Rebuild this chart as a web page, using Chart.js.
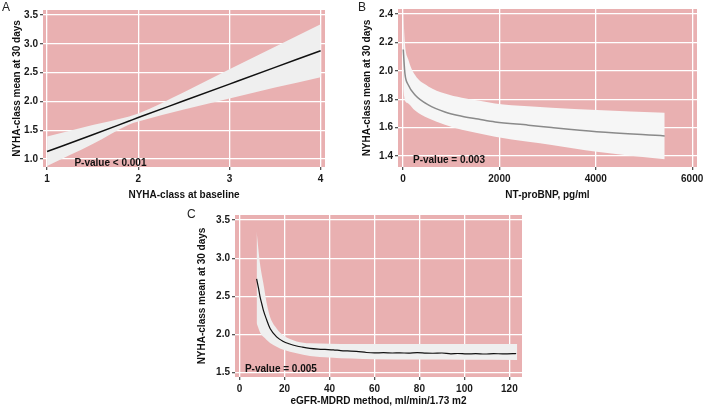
<!DOCTYPE html>
<html>
<head>
<meta charset="utf-8">
<script src="https://cdn.jsdelivr.net/npm/chart.js@4/dist/chart.umd.min.js"></script>
<style>
  body { margin: 0; background: #fff; }
  #wrap { position: relative; width: 709px; height: 406px; font-family: "Liberation Sans", Arial, sans-serif; }
  canvas { position: absolute; }
  .tag { position: absolute; font-size: 12px; color: #222; }
</style>
</head>
<body>
<div id="wrap">
  <canvas id="chartA" width="350" height="202" style="left:0;top:0"></canvas>
  <canvas id="chartB" width="359" height="202" style="left:350px;top:0"></canvas>
  <canvas id="chartC" width="350" height="202" style="left:185px;top:206px"></canvas>
  <div class="tag" style="left:2px;top:0px">A</div>
  <div class="tag" style="left:358px;top:0px">B</div>
  <div class="tag" style="left:187px;top:207px">C</div>
</div>
<script>
// panel A - NYHA-class at baseline
const xA     = [1, 1.5, 1.9, 2, 2.5, 3, 3.5, 4];
const meanA  = [1.13, 1.42, 1.66, 1.72, 2.01, 2.30, 2.59, 2.88];
const upperA = [1.39, 1.59, 1.74, 1.79, 2.16, 2.56, 2.95, 3.34];
const lowerA = [0.88, 1.26, 1.60, 1.65, 1.86, 2.05, 2.24, 2.42];
const xTicksA = [1, 2, 3, 4];
const yTicksA = [1.0, 1.5, 2.0, 2.5, 3.0, 3.5];

// panel B - NT-proBNP
const xB     = [5, 40, 110, 250, 525, 870, 1220, 1560, 1910, 2600, 3085, 4020, 5430];
const meanB  = [2.15, 1.98, 1.90, 1.83, 1.76, 1.71, 1.68, 1.66, 1.64, 1.617, 1.60, 1.571, 1.541];
const upperB = [2.42, 2.19, 2.08, 1.97, 1.89, 1.84, 1.81, 1.79, 1.77, 1.75, 1.74, 1.724, 1.705];
const lowerB = [1.87, 1.79, 1.77, 1.72, 1.665, 1.62, 1.585, 1.56, 1.536, 1.50, 1.478, 1.43, 1.377];
const xTicksB = [0, 2000, 4000, 6000];
const yTicksB = [1.4, 1.6, 1.8, 2.0, 2.2, 2.4];

// panel C - eGFR-MDRD
const xC    = [7.6, 8.5, 9.1, 10, 10.6, 12.1, 13.6, 16.5, 19.5, 22, 25.4, 28, 31.3, 35, 38, 41.7, 45, 48, 52, 56.5,
               60, 64, 68, 71.3, 75, 79, 83, 86, 90, 94, 97, 101, 105, 109, 113, 117, 121.6, 123];
const meanC = [2.73, 2.60, 2.50, 2.39, 2.32, 2.19, 2.08, 1.97, 1.91, 1.88, 1.85, 1.835, 1.82, 1.81, 1.805, 1.80, 1.79, 1.785, 1.78, 1.765,
               1.76, 1.762, 1.758, 1.76, 1.757, 1.762, 1.756, 1.755, 1.758, 1.748, 1.752, 1.746, 1.75, 1.745, 1.75, 1.747, 1.75, 1.752];
const xCband = [7.6, 9.1, 10.6, 12.1, 13.6, 16.5, 19.5, 25.4, 31.3, 40, 50, 60, 80, 100, 123.5];
const upperC = [3.35, 2.93, 2.67, 2.41, 2.23, 2.08, 1.99, 1.91, 1.885, 1.88, 1.876, 1.875, 1.875, 1.875, 1.875];
const lowerC = [2.15, 2.03, 1.97, 1.93, 1.89, 1.84, 1.80, 1.755, 1.72, 1.70, 1.685, 1.676, 1.672, 1.67, 1.668];
const xTicksC = [0, 20, 40, 60, 80, 100, 120];
const yTicksC = [1.5, 2.0, 2.5, 3.0, 3.5];

const pink = '#e9b0b1';
const fontBold = { family: '"Liberation Sans", Arial, sans-serif', size: 10, weight: 'bold' };

const pts = (xs, ys) => xs.map((x, i) => ({ x: x, y: ys[i] }));

// pink panel + p-value text
const panelPlugin = {
  id: 'panel',
  beforeDraw(chart) {
    const a = chart.chartArea, ctx = chart.ctx;
    ctx.save();
    ctx.fillStyle = pink;
    ctx.fillRect(a.left, a.top, a.right - a.left, a.bottom - a.top);
    ctx.restore();
  },
  afterDatasetsDraw(chart, args, opts) {
    const ctx = chart.ctx;
    ctx.save();
    ctx.font = 'bold 10px "Liberation Sans", Arial, sans-serif';
    ctx.fillStyle = '#111';
    ctx.textAlign = 'left';
    ctx.textBaseline = 'middle';
    ctx.fillText(opts.text, chart.scales.x.getPixelForValue(opts.x), chart.scales.y.getPixelForValue(opts.y));
    ctx.restore();
  }
};

function makeChart(id, p) {
  return new Chart(document.getElementById(id), {
    type: 'line',
    data: {
      datasets: [
        { data: pts(p.x, p.mean), borderColor: p.lineColor, borderWidth: p.lineWidth, pointRadius: 0,
          cubicInterpolationMode: 'monotone', order: 0 },
        { data: pts(p.bx, p.upper), borderWidth: 0, pointRadius: 0, fill: '+1',
          backgroundColor: p.bandColor, cubicInterpolationMode: 'monotone', order: 1 },
        { data: pts(p.bx, p.lower), borderWidth: 0, pointRadius: 0, fill: false,
          cubicInterpolationMode: 'monotone', order: 2 }
      ]
    },
    options: {
      responsive: false,
      animation: false,
      devicePixelRatio: 1,
      layout: { padding: p.pad },
      plugins: { legend: { display: false }, tooltip: { enabled: false }, panel: p.pval },
      scales: {
        x: {
          type: 'linear', min: p.xmin, max: p.xmax,
          afterBuildTicks: s => { s.ticks = p.xticks.map(v => ({ value: v })); },
          afterFit: s => { s.height = p.xh; },
          grid: { color: '#fff', lineWidth: 1.3, tickColor: '#555', tickLength: 3 },
          border: { display: false },
          ticks: { font: fontBold, color: '#1a1a1a', padding: 3, maxRotation: 0, callback: v => String(v) },
          title: { display: true, text: p.xtitle, font: fontBold, color: '#111', padding: { top: 0, bottom: 1 } }
        },
        y: {
          type: 'linear', min: p.ymin, max: p.ymax,
          afterBuildTicks: s => { s.ticks = p.yticks.map(v => ({ value: v })); },
          afterFit: s => { s.width = p.yw; },
          grid: { color: '#fff', lineWidth: 1.3, tickColor: '#555', tickLength: 3 },
          border: { display: false },
          ticks: { font: fontBold, color: '#1a1a1a', padding: 2, callback: v => v.toFixed(1) },
          title: { display: true, text: 'NYHA-class mean at 30 days', font: fontBold, color: '#111', padding: { top: 11, bottom: 0 } }
        }
      }
    },
    plugins: [panelPlugin]
  });
}

makeChart('chartA', {
  x: xA, mean: meanA, bx: xA, upper: upperA, lower: lowerA,
  lineColor: '#111', lineWidth: 1.5, bandColor: '#efefef',
  xmin: 0.955, xmax: 4.048, ymin: 0.861, ymax: 3.587,
  xticks: xTicksA, yticks: yTicksA,
  pad: { left: 0, top: 10, right: 25, bottom: 0 }, yw: 43, xh: 35,
  xtitle: 'NYHA-class at baseline',
  pval: { text: 'P-value < 0.001', x: 1.30, y: 0.93 }
});

makeChart('chartB', {
  x: xB, mean: meanB, bx: xB, upper: upperB, lower: lowerB,
  lineColor: '#8a8a8a', lineWidth: 1.5, bandColor: '#f6f6f6',
  xmin: -104, xmax: 6100, ymin: 1.3225, ymax: 2.435,
  xticks: xTicksB, yticks: yTicksB,
  pad: { left: 0, top: 9, right: 12, bottom: 0 }, yw: 48, xh: 35,
  xtitle: 'NT-proBNP, pg/ml',
  pval: { text: 'P-value = 0.003', x: 207, y: 1.372 }
});

makeChart('chartC', {
  x: xC, mean: meanC, bx: xCband, upper: upperC, lower: lowerC,
  lineColor: '#111', lineWidth: 1.2, bandColor: '#efefef',
  xmin: -2, xmax: 125.6, ymin: 1.444, ymax: 3.565,
  xticks: xTicksC, yticks: yTicksC,
  pad: { left: 0, top: 9, right: 13, bottom: 0 }, yw: 50, xh: 31,
  xtitle: 'eGFR-MDRD method, ml/min/1.73 m2',
  pval: { text: 'P-value = 0.005', x: 2.4, y: 1.54 }
});
</script>
</body>
</html>
